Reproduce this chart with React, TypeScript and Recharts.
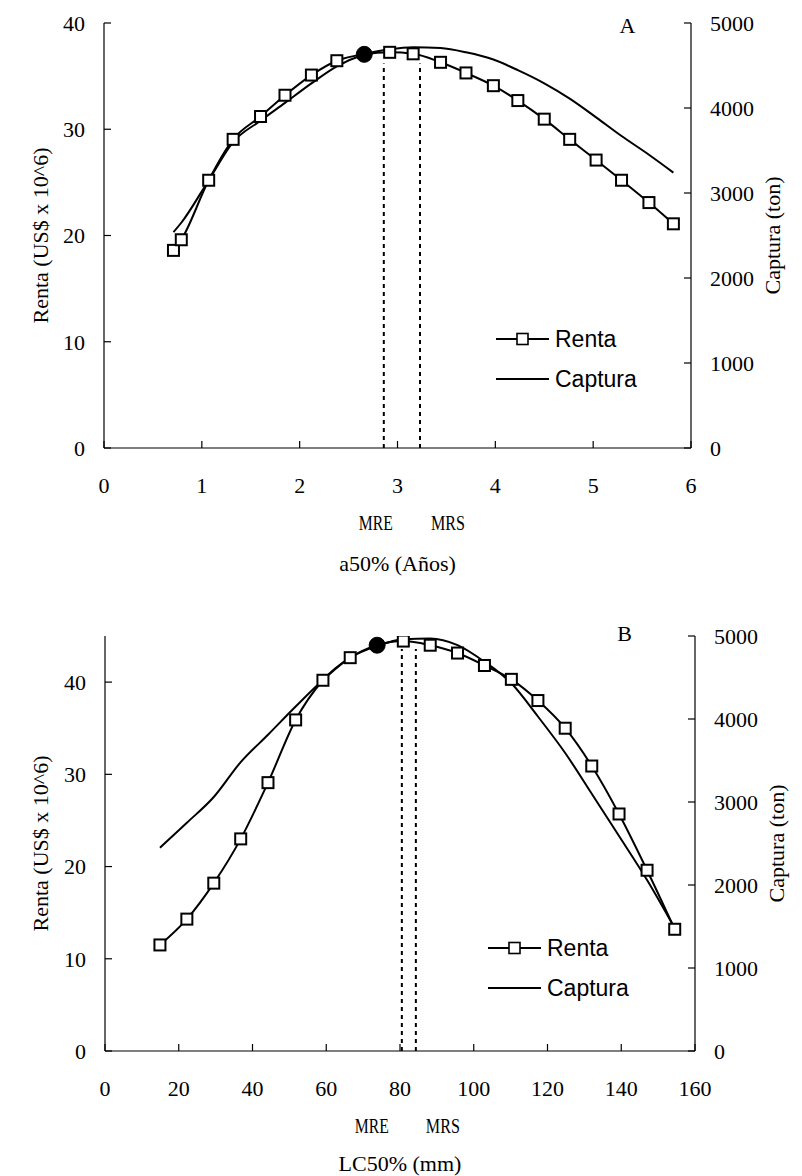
import React from 'react';
import { ComposedChart, Line, XAxis, YAxis, ReferenceLine, ReferenceDot, Legend } from 'recharts';

// ---------- Panel A data ----------
const aAge = [0.71, 0.79, 1.07, 1.32, 1.6, 1.85, 2.12, 2.38, 2.66, 2.92, 3.16, 3.44, 3.7, 3.98, 4.23, 4.5, 4.76, 5.03, 5.29, 5.57, 5.82];
const aRenta = [18.6, 19.6, 25.2, 29.05, 31.2, 33.2, 35.1, 36.45, 37.05, 37.24, 37.1, 36.3, 35.3, 34.1, 32.7, 30.95, 29.05, 27.1, 25.2, 23.1, 21.1];
const aCaptura = [2540, 2650, 3150, 3600, 3850, 4060, 4290, 4490, 4630, 4690, 4715, 4705, 4655, 4570, 4445, 4290, 4110, 3890, 3670, 3450, 3240];
const aPeakIndex = 8;
const aXTicks = [0, 1, 2, 3, 4, 5, 6];
const aLeftTicks = [0, 10, 20, 30, 40];
const aRightTicks = [0, 1000, 2000, 3000, 4000, 5000];
const aMRE = 2.86;
const aMRS = 3.23;
const aRefTop = 36.2;

// ---------- Panel B data ----------
const bLC = [14.9, 22.2, 29.5, 36.8, 44.2, 51.7, 59.1, 66.5, 73.8, 80.9, 88.2, 95.6, 102.9, 110.2, 117.4, 124.8, 132.0, 139.4, 147.0, 154.5];
const bRenta = [11.5, 14.3, 18.2, 23.0, 29.1, 35.9, 40.2, 42.65, 44.0, 44.45, 44.0, 43.15, 41.8, 40.3, 38.0, 35.0, 30.9, 25.7, 19.6, 13.2];
const bCaptura = [2450, 2750, 3060, 3480, 3810, 4150, 4470, 4740, 4880, 4960, 4970, 4890, 4690, 4430, 4030, 3590, 3100, 2590, 2060, 1480];
const bPeakIndex = 8;
const bXTicks = [0, 20, 40, 60, 80, 100, 120, 140, 160];
const bLeftTicks = [0, 10, 20, 30, 40];
const bRightTicks = [0, 1000, 2000, 3000, 4000, 5000];
const bMRE = 80.5;
const bMRS = 84.3;
const bRefTop = 43.6;

const seriesNames = ['Renta', 'Captura'];
const leftTitle = 'Renta (US$ x 10^6)';
const rightTitle = 'Captura (ton)';

const serif = '"Liberation Serif", "Times New Roman", serif';
const sans = '"Liberation Sans", Arial, sans-serif';

const tickStyle = { fontSize: 22, fill: '#000', fontFamily: serif };

const makeDot = (peak: number) => (props: any) => {
  const { cx, cy, index } = props;
  if (cx == null || cy == null) return <g key={`d${index}`} />;
  if (index === peak) return <circle key={`d${index}`} cx={cx} cy={cy} r={8} fill="#000" stroke="#000" />;
  return (
    <rect key={`d${index}`} x={cx - 5.5} y={cy - 5.5} width={11} height={11} fill="#fff" stroke="#000" strokeWidth={2} />
  );
};

const refLabel = (text: string, dx: number, dy: number) => (props: any) => {
  const vb = props.viewBox || {};
  return (
    <text
      x={vb.x + dx}
      y={vb.y + vb.height + dy}
      textAnchor="middle"
      dominantBaseline="central"
      fontFamily={serif}
      fontSize={20}
      textLength={34}
      lengthAdjust="spacingAndGlyphs"
      fill="#000"
    >
      {text}
    </text>
  );
};

const xTitle = (text: string, dy: number) => (props: any) => {
  const vb = props.viewBox || {};
  return (
    <text x={vb.x + vb.width / 2} y={vb.y + dy} textAnchor="middle" dominantBaseline="central" fontFamily={serif} fontSize={22} fill="#000">
      {text}
    </text>
  );
};

const yTitle = (text: string, dx: number) => (props: any) => {
  const vb = props.viewBox || {};
  const cx = vb.x + dx;
  const cy = vb.y + vb.height / 2;
  return (
    <text x={cx} y={cy} transform={`rotate(-90 ${cx} ${cy})`} textAnchor="middle" dominantBaseline="central" fontFamily={serif} fontSize={22} fill="#000">
      {text}
    </text>
  );
};

const letterLabel = (text: string) => (props: any) => {
  const vb = props.viewBox || {};
  const x = vb.x + (vb.width || 0) / 2;
  const y = vb.y + (vb.height || 0) / 2;
  return (
    <text x={x} y={y} textAnchor="middle" dominantBaseline="central" fontFamily={serif} fontSize={22} fill="#000">
      {text}
    </text>
  );
};

const LegendBox = () => (
  <div style={{ fontFamily: sans, fontSize: 23, color: '#000', lineHeight: 1 }}>
    <div style={{ display: 'flex', alignItems: 'center', height: 40 }}>
      <svg width={53} height={20} style={{ display: 'block' }}>
        <line x1={0} y1={10} x2={53} y2={10} stroke="#000" strokeWidth={2} />
        <rect x={21} y={4.5} width={11} height={11} fill="#fff" stroke="#000" strokeWidth={1.6} />
      </svg>
      <span style={{ marginLeft: 6 }}>{seriesNames[0]}</span>
    </div>
    <div style={{ display: 'flex', alignItems: 'center', height: 40 }}>
      <svg width={53} height={20} style={{ display: 'block' }}>
        <line x1={0} y1={10} x2={53} y2={10} stroke="#000" strokeWidth={2} />
      </svg>
      <span style={{ marginLeft: 6 }}>{seriesNames[1]}</span>
    </div>
  </div>
);

type PanelProps = {
  xs: number[];
  renta: number[];
  captura: number[];
  peak: number;
  xTicks: number[];
  xDomain: [number, number];
  leftTicks: number[];
  leftDomain: [number, number];
  rightTicks: number[];
  mre: number;
  mrs: number;
  refTop: number;
  mreDx: number;
  mrsDx: number;
  letter: string;
  letterX: number;
  letterY: number;
  xLabel: string;
  height: number;
  margin: { top: number; right: number; bottom: number; left: number };
  leftWidth: number;
  rightWidth: number;
  titleDy: number;
  refDy: number;
  legendLeft: number;
  legendTop: number;
};

const Panel = (p: PanelProps) => {
  const data = p.xs.map((x, i) => ({ x, renta: p.renta[i], captura: p.captura[i] }));
  return (
    <ComposedChart width={802} height={p.height} data={data} margin={p.margin}>
      <XAxis
        type="number"
        dataKey="x"
        domain={p.xDomain}
        ticks={p.xTicks}
        interval={0}
        height={30}
        tickSize={-7}
        tickMargin={36}
        tick={tickStyle}
        axisLine={{ stroke: '#000', strokeWidth: 1.2 }}
        tickLine={{ stroke: '#000', strokeWidth: 1.2 }}
        allowDataOverflow
        label={{ content: xTitle(p.xLabel, p.titleDy) }}
      />
      <YAxis
        yAxisId="left"
        orientation="left"
        domain={p.leftDomain}
        ticks={p.leftTicks}
        interval={0}
        width={p.leftWidth}
        tickSize={-7}
        tickMargin={26}
        tick={tickStyle}
        axisLine={{ stroke: '#000', strokeWidth: 1.2 }}
        tickLine={{ stroke: '#000', strokeWidth: 1.2 }}
        allowDataOverflow
        label={{ content: yTitle(leftTitle, 40) }}
      />
      <YAxis
        yAxisId="right"
        orientation="right"
        domain={[0, 5000]}
        ticks={p.rightTicks}
        interval={0}
        width={p.rightWidth}
        tickSize={-7}
        tickMargin={26}
        tick={tickStyle}
        axisLine={{ stroke: '#000', strokeWidth: 1.2 }}
        tickLine={{ stroke: '#000', strokeWidth: 1.2 }}
        allowDataOverflow
        label={{ content: yTitle(rightTitle, 81) }}
      />
      <ReferenceLine
        yAxisId="left"
        segment={[{ x: p.mre, y: 0 }, { x: p.mre, y: p.refTop }]}
        stroke="#000"
        strokeWidth={2}
        strokeDasharray="4 4"
        label={{ content: refLabel('MRE', p.mreDx, p.refDy) }}
      />
      <ReferenceLine
        yAxisId="left"
        segment={[{ x: p.mrs, y: 0 }, { x: p.mrs, y: p.refTop }]}
        stroke="#000"
        strokeWidth={2}
        strokeDasharray="4 4"
        label={{ content: refLabel('MRS', p.mrsDx, p.refDy) }}
      />
      <ReferenceDot
        yAxisId="right"
        x={p.letterX}
        y={p.letterY}
        r={0}
        fill="none"
        stroke="none"
        ifOverflow="visible"
        label={{ content: letterLabel(p.letter) }}
      />
      <Line
        yAxisId="right"
        dataKey="captura"
        type="monotone"
        stroke="#000"
        strokeWidth={2}
        dot={false}
        activeDot={false}
        isAnimationActive={false}
      />
      <Line
        yAxisId="left"
        dataKey="renta"
        type="monotone"
        stroke="#000"
        strokeWidth={2}
        dot={makeDot(p.peak)}
        activeDot={false}
        isAnimationActive={false}
      />
      <Legend
        layout="vertical"
        align="center"
        verticalAlign="middle"
        content={() => <LegendBox />}
        wrapperStyle={{ left: p.legendLeft, top: p.legendTop, width: 160, height: 80 }}
      />
    </ComposedChart>
  );
};

export default function App() {
  return (
    <div style={{ position: 'absolute', left: 0, top: 0, width: 802, height: 1176, background: '#fff' }}>
      <div style={{ position: 'absolute', left: 0, top: 0 }}>
        <Panel
          xs={aAge}
          renta={aRenta}
          captura={aCaptura}
          peak={aPeakIndex}
          xTicks={aXTicks}
          xDomain={[0, 6]}
          leftTicks={aLeftTicks}
          leftDomain={[0, 40]}
          rightTicks={aRightTicks}
          mre={aMRE}
          mrs={aMRS}
          refTop={aRefTop}
          mreDx={-8}
          mrsDx={28}
          letter="A"
          letterX={5.35}
          letterY={4970}
          xLabel="a50% (Años)"
          height={590}
          margin={{ top: 23, right: 0, bottom: 112, left: 0 }}
          leftWidth={104}
          rightWidth={111}
          titleDy={115}
          refDy={75}
          legendLeft={496}
          legendTop={319}
        />
      </div>
      <div style={{ position: 'absolute', left: 0, top: 590 }}>
        <Panel
          xs={bLC}
          renta={bRenta}
          captura={bCaptura}
          peak={bPeakIndex}
          xTicks={bXTicks}
          xDomain={[0, 160]}
          leftTicks={bLeftTicks}
          leftDomain={[0, 45]}
          rightTicks={bRightTicks}
          mre={bMRE}
          mrs={bMRS}
          refTop={bRefTop}
          mreDx={-30}
          mrsDx={27}
          letter="B"
          letterX={140.9}
          letterY={5030}
          xLabel="LC50% (mm)"
          height={586}
          margin={{ top: 46, right: 0, bottom: 95, left: 0 }}
          leftWidth={105}
          rightWidth={107}
          titleDy={112}
          refDy={75}
          legendLeft={488}
          legendTop={338}
        />
      </div>
    </div>
  );
}
